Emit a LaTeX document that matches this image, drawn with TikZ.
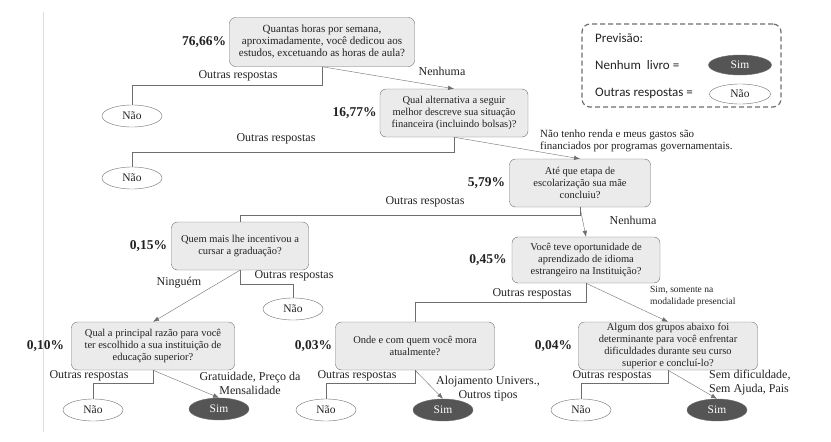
\documentclass[tikz,border=0pt]{standalone}
\usepackage{fontspec}
\setmainfont{Liberation Serif}
\newfontfamily\legfont{Carlito}
\usepackage{xcolor}
\usepackage{tikz}
\usetikzlibrary{arrows.meta,positioning,shapes.geometric}
\definecolor{mycline}{HTML}{6E6E6E}
\definecolor{mycbox}{HTML}{EBEBEB}
\definecolor{mycdark}{HTML}{555555}
\definecolor{myctext}{HTML}{222222}
\definecolor{mycmargin}{HTML}{DDDDDD}

\begin{document}
\begin{tikzpicture}[
 x=1pt,y=-1pt,
 q/.style={draw=mycline,fill=mycbox,rounded corners=6pt,align=center,inner sep=1pt,text=myctext,font=\fontsize{10.5}{12}\selectfont},
 no/.style={ellipse,draw=mycline,minimum width=60pt,minimum height=22pt,inner sep=0pt,text=myctext,font=\fontsize{11.5}{13}\selectfont},
 yes/.style={no,fill=mycdark,text=white},
 pc/.style={font=\bfseries\fontsize{13.5}{15}\selectfont,text=myctext,inner sep=0pt},
 lb/.style={text=myctext,inner sep=0pt,font=\fontsize{12}{14}\selectfont},
 sm/.style={text=myctext,inner sep=0pt,align=left,anchor=west},
 leg/.style={anchor=west,inner sep=0pt,text=myctext,font=\legfont\fontsize{13}{15}\selectfont},
 a/.style={-{Latex[length=6pt,width=4.5pt]},mycline},
 l/.style={mycline}
]
\useasboundingbox (0,0) rectangle (831,442);
\draw[mycmargin] (43,12) -- (43,432);

% questions
\node[q,minimum width=185,minimum height=49,font=\fontsize{11}{12}\selectfont] (q1) at (322,42) {Quantas horas por semana,\\aproximadamente, você dedicou aos\\estudos, excetuando as horas de aula?};
\node[q,minimum width=148,minimum height=48] (q2) at (454,113) {Qual alternativa a seguir\\melhor descreve sua situação\\financeira (incluindo bolsas)?};
\node[q,minimum width=141,minimum height=48] (q3) at (580,183) {Até que etapa de\\escolarização sua mãe\\concluiu?};
\node[q,minimum width=137,minimum height=48] (q4) at (240,246) {Quem mais lhe incentivou a\\cursar a graduação?};
\node[q,minimum width=148,minimum height=46] (q5) at (586,260) {Você teve oportunidade de\\aprendizado de idioma\\estrangeiro na Instituição?};
\node[q,minimum width=163,minimum height=48] (q6) at (153,346) {Qual a principal razão para você\\ter escolhido a sua instituição de\\educação superior?};
\node[q,minimum width=159,minimum height=48] (q7) at (415,346) {Onde e com quem você mora\\atualmente?};
\node[q,minimum width=179,minimum height=48] (q8) at (668,346) {Algum dos grupos abaixo foi\\determinante para você enfrentar\\dificuldades durante seu curso\\superior e concluí-lo?};

% percentages
\node[pc,left=3pt of q1] (p1) {76,66\%};
\node[pc,left=3pt of q2] (p2) {16,77\%};
\node[pc,left=4pt of q3] (p3) {5,79\%};
\node[pc,left=4pt of q4] (p4) {0,15\%};
\node[pc,left=5pt of q5] (p5) {0,45\%};
\node[pc,left=7pt of q6] (p6) {0,10\%};
\node[pc,left=3pt of q7] (p7) {0,03\%};
\node[pc,left=6pt of q8] (p8) {0,04\%};

% leaves
\node[no] (n1) at (132,116) {Não};
\node[no] (n2) at (132,178) {Não};
\node[no] (n4) at (293,309) {Não};
\node[no] (n6) at (93,410) {Não};
\node[yes] (s6) at (219,409) {Sim};
\node[no] (n7) at (326,410) {Não};
\node[yes] (s7) at (443,410) {Sim};
\node[no] (n8) at (581,410) {Não};
\node[yes] (s8) at (717,410) {Sim};

% connectors
\draw[l] (q1.south) -- ++(0,18) -| (n1.north);
\draw[a] (q1.south) -- (q2.north);
\draw[l] (q2.south) -- ++(0,15) -| (n2.north);
\draw[a] (q2.south) -- (q3.north);
\draw[l] (q3.south) -- ++(0,8) -| (q4.north);
\draw[a] (q3.south) -- (q5.north);
\draw[l] (q4.south) -- ++(0,14) -| (n4.north);
\draw[a] (q4.south) -- (q6.north);
\draw[l] (q5.south) -- ++(0,19) -| (q7.north);
\draw[a] (q5.south) -- (q8.north);
\draw[l] (q6.south) -- ++(0,13) -| (n6.north);
\draw[a] (q6.south) -- (s6.north);
\draw[l] (q7.south) -- ++(0,13) -| (n7.north);
\draw[a] (q7.south) -- (s7.north);
\draw[l] (q8.south) -- ++(0,13) -| (n8.north);
\draw[a] (q8.south) -- (s8.north);

% answers
\node[lb] (o1) at (238,76) {Outras respostas};
\node[lb] (e1) at (442,71) {Nenhuma};
\node[lb] (o2) at (276,139) {Outras respostas};
\node[sm,font=\fontsize{11}{12}\selectfont] (e2) at (540,141) {Não tenho renda e meus gastos são\\financiados por programas governamentais.};
\node[lb] (o3) at (425,202) {Outras respostas};
\node[lb] (e3) at (633,220) {Nenhuma};
\node[lb] (o4) at (294,276) {Outras respostas};
\node[lb] (e4) at (179,283) {Ninguém};
\node[lb] (o5) at (532,294) {Outras respostas};
\node[sm,font=\fontsize{9.5}{12}\selectfont] (e5) at (650,296) {Sim, somente na\\modalidade presencial};
\node[lb] (o6) at (89,376) {Outras respostas};
\node[lb,align=center] (e6) at (250,383) {Gratuidade, Preço da\\Mensalidade};
\node[lb] (o7) at (357,376) {Outras respostas};
\node[lb,align=center] (e7) at (488,389) {Alojamento Univers.,\\Outros tipos};
\node[lb] (o8) at (612,376) {Outras respostas};
\node[sm,font=\fontsize{12}{14}\selectfont] (e8) at (709,383) {Sem dificuldade,\\Sem Ajuda, Pais};

% legend
\node[draw=mycline,dashed,dash pattern=on 5pt off 3pt,line width=1.2pt,rounded corners=8pt,minimum width=199,minimum height=83] (lg) at (681.5,65.5) {};
\node[leg] (lt) at (595,38) {Previsão:};
\node[leg] (ly) at (595,65) {Nenhum\ \ livro =};
\node[leg] (ln) at (595,93) {Outras respostas =};
\node[yes,minimum width=63,minimum height=20] (ls) at (740,65) {Sim};
\node[no,minimum width=61,minimum height=20] (lo) at (740,94) {Não};
\end{tikzpicture}
\end{document}
